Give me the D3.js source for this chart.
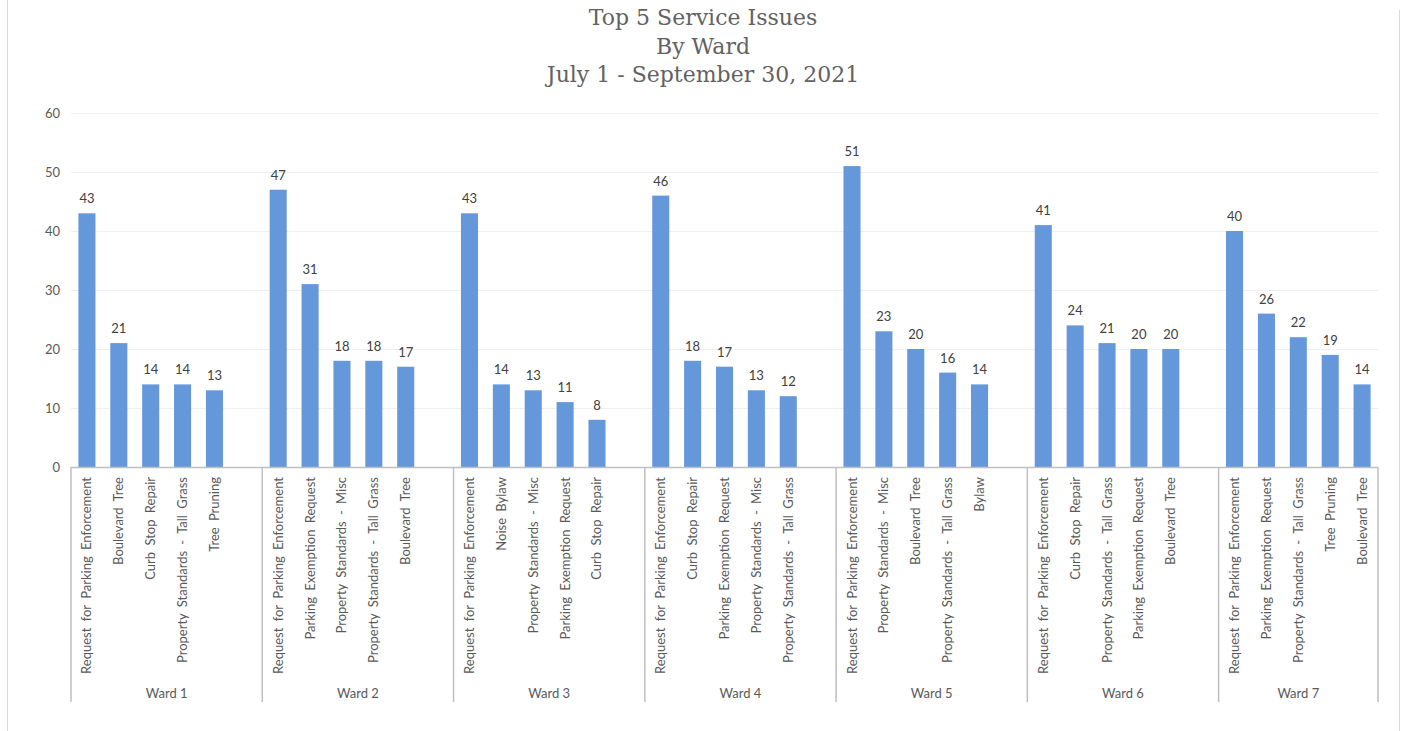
<!DOCTYPE html>
<html><head><meta charset="utf-8">
<script src="https://cdn.jsdelivr.net/npm/d3@7"></script>
<style>
html,body{margin:0;padding:0;background:#fff;}
svg{display:block;}
</style></head>
<body>
<svg id="chart" width="1401" height="731"></svg>
<script>
const titleLines = ["Top 5 Service Issues", "By Ward", "July 1 - September 30, 2021"];
const wards = ["Ward 1", "Ward 2", "Ward 3", "Ward 4", "Ward 5", "Ward 6", "Ward 7"];
const issues = [
  ["Request for Parking Enforcement", "Boulevard Tree", "Curb Stop Repair", "Property Standards - Tall Grass", "Tree Pruning"],
  ["Request for Parking Enforcement", "Parking Exemption Request", "Property Standards - Misc", "Property Standards - Tall Grass", "Boulevard Tree"],
  ["Request for Parking Enforcement", "Noise Bylaw", "Property Standards - Misc", "Parking Exemption Request", "Curb Stop Repair"],
  ["Request for Parking Enforcement", "Curb Stop Repair", "Parking Exemption Request", "Property Standards - Misc", "Property Standards - Tall Grass"],
  ["Request for Parking Enforcement", "Property Standards - Misc", "Boulevard Tree", "Property Standards - Tall Grass", "Bylaw"],
  ["Request for Parking Enforcement", "Curb Stop Repair", "Property Standards - Tall Grass", "Parking Exemption Request", "Boulevard Tree"],
  ["Request for Parking Enforcement", "Parking Exemption Request", "Property Standards - Tall Grass", "Tree Pruning", "Boulevard Tree"]
];
const counts = [
  [43, 21, 14, 14, 13],
  [47, 31, 18, 18, 17],
  [43, 14, 13, 11, 8],
  [46, 18, 17, 13, 12],
  [51, 23, 20, 16, 14],
  [41, 24, 21, 20, 20],
  [40, 26, 22, 19, 14]
];
const yTicks = [0, 10, 20, 30, 40, 50, 60];

const svg = d3.select("#chart");
const plot = {left: 71, right: 1378, top: 113, bottom: 467};
const labelFont = "Lato, 'Open Sans', sans-serif";

// flatten into slots (blank slot between wards)
const bars = [];
const slots = [];
wards.forEach((w, wi) => {
  issues[wi].forEach((name, ii) => {
    const key = wi + "-" + ii;
    slots.push(key);
    bars.push({key, ward: w, wi, name, value: counts[wi][ii]});
  });
  if (wi < wards.length - 1) slots.push("gap" + wi);
});

const x = d3.scaleBand().domain(slots).range([plot.left, plot.right]).padding(0);
const y = d3.scaleLinear().domain([0, 60]).range([plot.bottom, plot.top]);
const barW = x.bandwidth() * 0.535;

// chart border sides
svg.append("line").attr("x1", 7.5).attr("x2", 7.5).attr("y1", 0).attr("y2", 731).attr("stroke", "#d9d9d9");
svg.append("line").attr("x1", 1399.5).attr("x2", 1399.5).attr("y1", 10).attr("y2", 731).attr("stroke", "#d9d9d9");

// title
svg.append("g").selectAll("text").data(titleLines).join("text")
  .attr("x", 703).attr("y", (d, i) => 25 + i * 28.5)
  .attr("text-anchor", "middle")
  .attr("font-family", "'DejaVu Serif', 'Liberation Serif', serif")
  .attr("font-size", 22)
  .attr("fill", "#626262")
  .text(d => d);

// gridlines
svg.append("g").selectAll("line").data(yTicks.filter(t => t > 0)).join("line")
  .attr("x1", plot.left).attr("x2", plot.right)
  .attr("y1", d => Math.round(y(d)) + 0.5).attr("y2", d => Math.round(y(d)) + 0.5)
  .attr("stroke", "#efefef").attr("stroke-width", 1);

// y axis labels
const yAxis = d3.axisLeft(y).tickValues(yTicks).tickSize(0).tickPadding(0);
const yg = svg.append("g").attr("transform", `translate(${plot.left - 11},0)`).call(yAxis);
yg.select(".domain").remove();
yg.selectAll("text").attr("font-family", labelFont).attr("font-size", 13).attr("fill", "#595959");

// bars
svg.append("g").selectAll("rect").data(bars).join("rect")
  .attr("x", d => x(d.key) + (x.bandwidth() - barW) / 2)
  .attr("width", barW)
  .attr("y", d => y(d.value))
  .attr("height", d => y(0) - y(d.value))
  .attr("fill", "#6498da");

// value labels
svg.append("g").selectAll("text").data(bars).join("text")
  .attr("x", d => x(d.key) + x.bandwidth() / 2)
  .attr("y", d => y(d.value) - 10)
  .attr("text-anchor", "middle")
  .attr("font-family", labelFont).attr("font-size", 13).attr("fill", "#404040")
  .text(d => d.value);

// x axis line
svg.append("line").attr("x1", plot.left).attr("x2", plot.right)
  .attr("y1", plot.bottom + 0.5).attr("y2", plot.bottom + 0.5)
  .attr("stroke", "#bfbfbf").attr("stroke-width", 1.5);

// group dividers
const bounds = wards.map((w, wi) => x(wi + "-0"));
bounds.push(plot.right);
svg.append("g").selectAll("line").data(bounds).join("line")
  .attr("x1", d => d).attr("x2", d => d)
  .attr("y1", plot.bottom).attr("y2", 702)
  .attr("stroke", "#bfbfbf").attr("stroke-width", 1.5);

// category labels (rotated)
svg.append("g").selectAll("text").data(bars).join("text")
  .attr("transform", d => `translate(${x(d.key) + x.bandwidth() / 2 + 4.5},477) rotate(-90)`)
  .attr("text-anchor", "end")
  .attr("font-family", labelFont).attr("font-size", 13).attr("fill", "#595959")
  .attr("word-spacing", 3)
  .text(d => d.name);

// ward labels
svg.append("g").selectAll("text").data(wards).join("text")
  .attr("x", (d, i) => (bounds[i] + (i < wards.length - 1 ? x("gap" + i) + x.bandwidth() : plot.right)) / 2)
  .attr("y", 698)
  .attr("text-anchor", "middle")
  .attr("font-family", labelFont).attr("font-size", 13).attr("fill", "#595959")
  .text(d => d);
</script>
</body></html>
